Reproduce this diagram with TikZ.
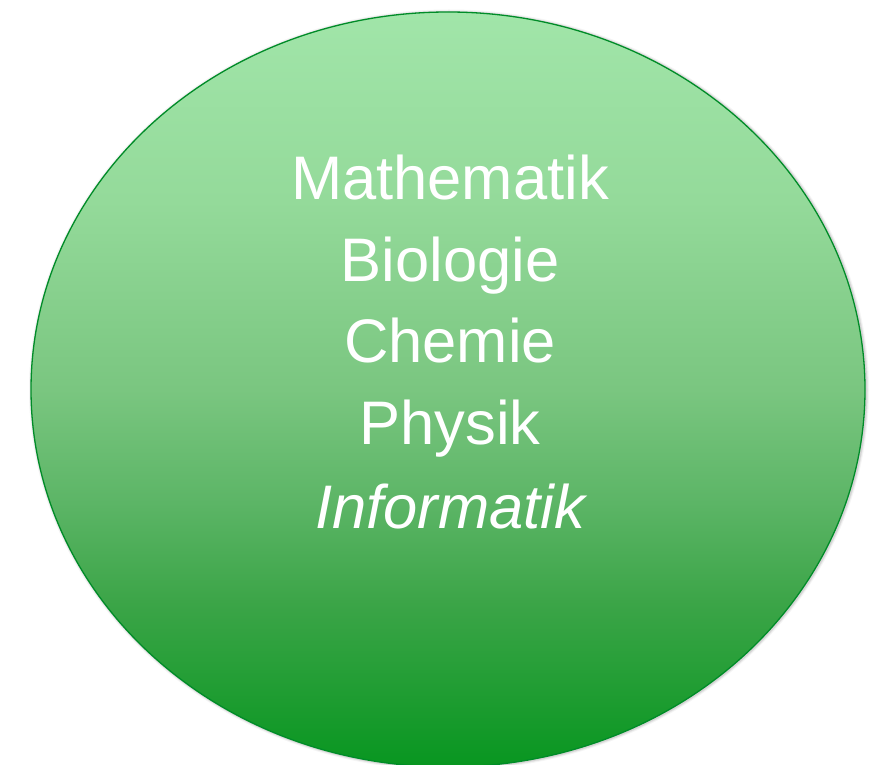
\documentclass[tikz,border=0pt]{standalone}
\usepackage{fontspec}
\setmainfont{Liberation Sans}
\definecolor{gtop}{RGB}{161,229,169}
\definecolor{g25}{RGB}{148,218,154}
\definecolor{g50}{RGB}{122,198,128}
\definecolor{g65}{RGB}{92,181,102}
\definecolor{g78}{RGB}{60,165,72}
\definecolor{gbot}{RGB}{8,150,32}
\definecolor{gline}{RGB}{0,140,40}
\pgfdeclareverticalshading{ovalgreen}{100bp}{%
  color(0bp)=(gbot);
  color(25bp)=(gbot);
  color(36bp)=(g78);
  color(42.5bp)=(g65);
  color(50bp)=(g50);
  color(62.5bp)=(g25);
  color(75bp)=(gtop);
  color(100bp)=(gtop)}
\tikzset{
  word/.style={text=white, anchor=base, inner sep=0pt, font=\fontsize{61.5}{73}\selectfont},
}
\begin{document}
\begin{tikzpicture}[x=1pt,y=1pt]
\useasboundingbox (0,0) rectangle (881,764);
% soft shadow
\foreach \w/\o in {6/0.04,4/0.06,2.5/0.08}{
  \draw[black, opacity=\o, line width=\w pt] (449,374) ellipse [x radius=417, y radius=377.5];
}
\shade[shading=ovalgreen] (448,374.5) ellipse [x radius=417, y radius=377.5];
\draw[gline, line width=1.3pt] (448,374.5) ellipse [x radius=417, y radius=377.5];
\node[word] (mathe) at (450,564) {Mathematik};
\node[word] (bio) at (450,482) {Biologie};
\node[word] (chem) at (450,401) {Chemie};
\node[word] (phys) at (450,319) {Physik};
\node[word] (info) at (450,236) {\itshape Informatik};
\end{tikzpicture}
\end{document}
